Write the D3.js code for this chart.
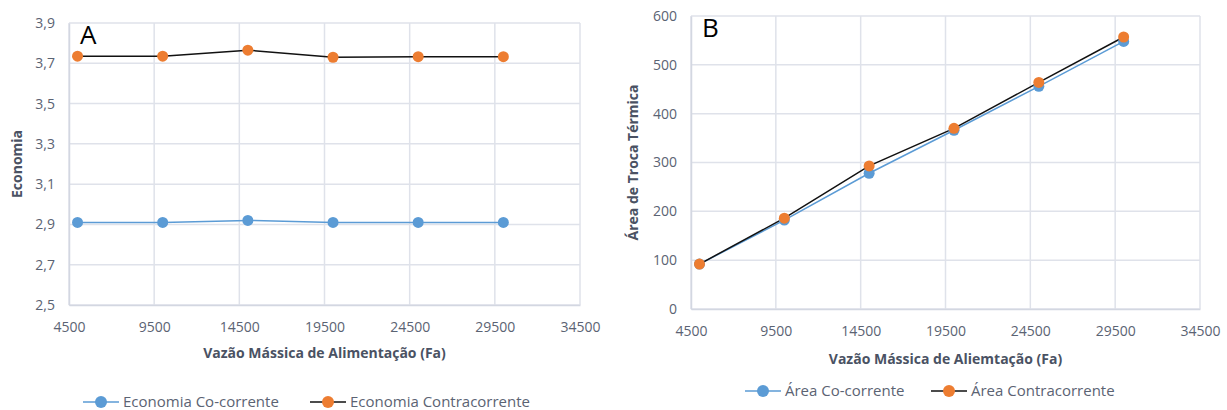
<!DOCTYPE html>
<html>
<head>
<meta charset="utf-8">
<script src="https://cdn.jsdelivr.net/npm/d3@7"></script>
<style>
  body { margin: 0; background: #fff; }
  text { font-family: "Open Sans", "Liberation Sans", sans-serif; }
</style>
</head>
<body>
<svg id="chart" width="1227" height="410"></svg>
<script>
// data
var feed = [5000, 10000, 15000, 20000, 25000, 30000];
var econCo = [2.91, 2.91, 2.92, 2.91, 2.91, 2.91];
var econContra = [3.735, 3.735, 3.765, 3.730, 3.733, 3.733];
var areaCo = [92, 182, 278, 366, 456, 548];
var areaContra = [92, 186, 293, 370, 464, 557];

var xTicks = [4500, 9500, 14500, 19500, 24500, 29500, 34500];
var econTicks = [2.5, 2.7, 2.9, 3.1, 3.3, 3.5, 3.7, 3.9];
var areaTicks = [0, 100, 200, 300, 400, 500, 600];

var blue = "#5b9bd5", orange = "#ed7d31", grid = "#dfe2ea", txt = "#5b6373";

var svg = d3.select("#chart");

function panel(o) {
  var g = svg.append("g");
  var x = d3.scaleLinear().domain([4500, 34500]).range([o.left, o.right]);
  var y = d3.scaleLinear().domain(o.yDomain).range([o.bottom, o.top]);

  // gridlines
  g.selectAll(".vg").data(xTicks).enter().append("line")
    .attr("x1", d => x(d)).attr("x2", d => x(d))
    .attr("y1", o.top).attr("y2", o.bottom)
    .attr("stroke", grid).attr("stroke-width", 1.5);
  g.selectAll(".hg").data(o.yTicks).enter().append("line")
    .attr("x1", o.left).attr("x2", o.right)
    .attr("y1", d => y(d)).attr("y2", d => y(d))
    .attr("stroke", grid).attr("stroke-width", 1.5);

  // axes
  var xa = g.append("g").attr("transform", "translate(0," + o.bottom + ")")
    .call(d3.axisBottom(x).tickValues(xTicks).tickSize(0).tickPadding(o.xPad).tickFormat(d3.format("d")));
  var ya = g.append("g").attr("transform", "translate(" + o.left + ",0)")
    .call(d3.axisLeft(y).tickValues(o.yTicks).tickSize(0).tickPadding(o.yPad).tickFormat(o.fmt));
  [xa, ya].forEach(function(a) {
    a.select(".domain").attr("stroke", "#d3d7e1").attr("stroke-width", 1.5);
    a.selectAll("text").attr("fill", txt).style("font-size", "14px")
      .style("font-family", "'Open Sans', sans-serif");
  });

  // series
  var line = d3.line().x((d, i) => x(feed[i])).y(d => y(d));
  o.series.forEach(function(s) {
    g.append("path").datum(s.values).attr("d", line)
      .attr("fill", "none").attr("stroke", s.line).attr("stroke-width", s.width);
  });
  o.series.forEach(function(s) {
    g.selectAll(null).data(s.values).enter().append("circle")
      .attr("cx", (d, i) => x(feed[i])).attr("cy", d => y(d))
      .attr("r", 5.5).attr("fill", s.marker);
  });

  // titles
  g.append("text").attr("x", (o.left + o.right) / 2).attr("y", o.xTitleY)
    .attr("text-anchor", "middle").attr("fill", "#4a5263")
    .style("font-size", "14px").style("font-weight", "bold").text(o.xTitle);
  g.append("text")
    .attr("transform", "translate(" + o.yTitleX + "," + ((o.top + o.bottom) / 2) + ") rotate(-90)")
    .attr("text-anchor", "middle").attr("fill", "#4a5263")
    .style("font-size", "14px").style("font-weight", "bold").text(o.yTitle);
  g.append("text").attr("x", o.left + 11).attr("y", o.top + 21)
    .attr("fill", "#000").style("font-size", "26px").text(o.letter);

  // legend
  var lg = g.append("g");
  o.series.forEach(function(s, i) {
    var lx = o.legendX[i];
    lg.append("line").attr("x1", lx).attr("x2", lx + 36)
      .attr("y1", o.legendY).attr("y2", o.legendY)
      .attr("stroke", s.line).attr("stroke-width", s.width);
    lg.append("circle").attr("cx", lx + 18).attr("cy", o.legendY).attr("r", 6).attr("fill", s.marker);
    lg.append("text").attr("x", lx + 40).attr("y", o.legendY + 5)
      .attr("fill", txt).style("font-size", "15px").text(s.name);
  });
}

panel({
  left: 69, right: 580, top: 23, bottom: 305,
  yDomain: [2.5, 3.9], yTicks: econTicks, fmt: d => d3.format(".1f")(d).replace(".", ","),
  xPad: 17, yPad: 14,
  xTitle: "Vazão Mássica de Alimentação (Fa)", xTitleY: 358,
  yTitle: "Economia", yTitleX: 22, letter: "A",
  legendX: [83, 310], legendY: 402,
  series: [
    { name: "Economia Co-corrente", values: econCo, line: blue, marker: blue, width: 1.5 },
    { name: "Economia Contracorrente", values: econContra, line: "#111", marker: orange, width: 1.5 }
  ]
});

panel({
  left: 691, right: 1200, top: 16, bottom: 309,
  yDomain: [0, 600], yTicks: areaTicks, fmt: d3.format("d"),
  xPad: 17, yPad: 14,
  xTitle: "Vazão Mássica de Aliemtação (Fa)", xTitleY: 364,
  yTitle: "Área de Troca Térmica", yTitleX: 638, letter: "B",
  legendX: [745, 931], legendY: 391,
  series: [
    { name: "Área Co-corrente", values: areaCo, line: blue, marker: blue, width: 1.5 },
    { name: "Área Contracorrente", values: areaContra, line: "#111", marker: orange, width: 1.5 }
  ]
});
</script>
</body>
</html>
